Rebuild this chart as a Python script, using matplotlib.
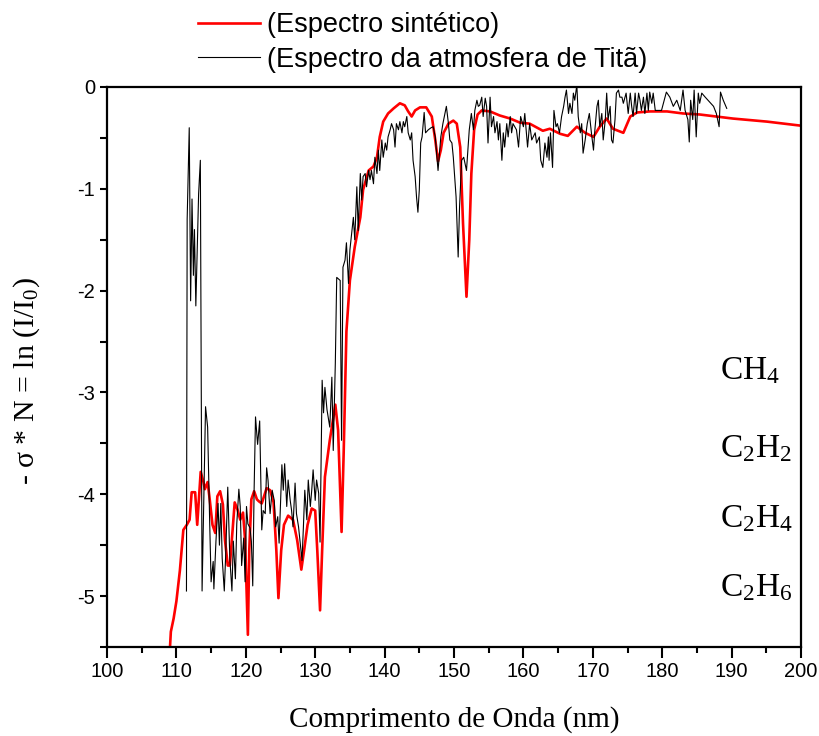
"""
Espectro sintetico x espectro da atmosfera de Tita
"""
import matplotlib
matplotlib.use('Agg')
import matplotlib.pyplot as plt
from matplotlib.ticker import MultipleLocator

# espectro sintetico (nm, -sigma*N)
red_x = [109.0, 109.2, 109.6, 110.0, 110.5, 111.0, 111.5, 111.9, 112.2, 112.7,
         113.0, 113.5, 113.9, 114.1, 114.5, 114.8, 115.2, 115.6, 115.9, 116.3,
         116.7, 117.0, 117.4, 117.7, 118.1, 118.4, 118.8, 119.2, 119.6, 119.9,
         120.3, 120.5, 120.8, 121.2, 121.6, 121.9, 122.3, 123.0, 123.5, 124.0,
         124.4, 124.7, 125.1, 125.5, 126.1, 126.8, 127.4, 128.0, 128.4, 128.9,
         129.5, 130.0, 130.3, 130.7, 131.0, 131.4, 132.1, 132.9, 133.3, 133.8,
         134.1, 134.5, 135.0, 135.7, 136.5, 136.9, 137.7, 138.4, 138.9, 139.3,
         139.8, 140.5, 141.3, 142.2, 142.9, 143.4, 143.9, 144.4, 145.1, 146.0,
         146.8, 147.3, 147.7, 148.1, 148.5, 149.2, 149.9, 150.4, 150.9, 151.3,
         151.8, 152.2, 152.5, 152.9, 153.4, 154.0, 155.2, 156.6, 158.1, 159.5,
         160.9, 162.8, 163.8, 165.3, 166.4, 167.7, 168.9, 170.1, 171.0, 172.0,
         172.9, 174.4, 175.4, 176.4, 178.2, 180.7, 183.0, 185.4, 190.2, 195.1,
         200.0]
red_y = [-5.60, -5.35, -5.22, -5.05, -4.75, -4.35, -4.30, -4.25, -3.98, -3.98,
         -4.30, -3.78, -3.88, -3.95, -3.88, -4.05, -4.30, -4.38, -4.02, -3.97,
         -4.10, -4.45, -4.70, -4.70, -4.35, -4.08, -4.15, -4.25, -4.18, -4.45,
         -5.38, -4.55, -4.05, -3.97, -4.05, -4.07, -4.09, -3.94, -3.96, -4.08,
         -4.55, -5.02, -4.55, -4.30, -4.21, -4.25, -4.45, -4.74, -4.55, -4.30,
         -4.14, -4.16, -4.55, -5.14, -4.55, -3.83, -3.47, -3.12, -3.37, -4.37,
         -3.60, -2.40, -1.90, -1.57, -1.28, -1.01, -0.82, -0.78, -0.69, -0.49,
         -0.34, -0.26, -0.21, -0.16, -0.18, -0.24, -0.29, -0.23, -0.20, -0.20,
         -0.29, -0.52, -0.73, -0.62, -0.45, -0.36, -0.33, -0.36, -0.59, -1.34,
         -2.06, -1.50, -0.85, -0.42, -0.27, -0.23, -0.24, -0.28, -0.31, -0.35,
         -0.36, -0.43, -0.41, -0.46, -0.48, -0.39, -0.45, -0.49, -0.39, -0.31,
         -0.41, -0.45, -0.29, -0.25, -0.24, -0.24, -0.26, -0.27, -0.31, -0.34,
         -0.38]

# espectro da atmosfera de Tita
titan_x = [111.45, 111.55, 111.85, 112.05, 112.25, 112.45, 112.6, 112.8, 113.0, 113.2,
           113.45, 113.7, 114.2, 114.5, 114.8, 115.0, 115.3, 115.4, 115.7, 116.0,
           116.2, 116.4, 116.6, 116.9, 117.1, 117.4, 117.7, 118.0, 118.2, 118.5,
           118.7, 119.0, 119.2, 119.4, 119.7, 119.9, 120.1, 120.3, 120.6, 120.8,
           121.0, 121.2, 121.4, 121.7, 122.0, 122.3, 122.5, 122.8, 123.0, 123.2,
           123.5, 123.8, 124.1, 124.3, 124.6, 124.8, 125.2, 125.4, 125.6, 125.9,
           126.1, 126.4, 126.6, 126.8, 127.1, 127.3, 127.6, 127.8, 128.1, 128.3,
           128.5, 128.8, 129.0, 129.3, 129.5, 129.7, 130.0, 130.2, 130.5, 130.7,
           131.0, 131.2, 131.4, 131.7, 132.1, 132.4, 132.6, 132.9, 133.1, 133.6,
           133.8, 134.0, 134.3, 134.5, 134.8, 135.0, 135.3, 135.5, 135.7, 136.0,
           136.2, 136.5, 136.7, 136.9, 137.2, 137.4, 137.7, 137.9, 138.1, 138.4,
           138.6, 138.9, 139.1, 139.3, 139.6, 139.8, 140.1, 140.3, 140.5, 140.8,
           141.0, 141.3, 141.5, 141.7, 142.0, 142.2, 142.5, 142.7, 142.9, 143.2,
           143.4, 143.7, 143.9, 144.1, 144.4, 144.6, 144.8, 145.0, 145.2, 145.4,
           145.7, 145.9, 146.3, 146.7, 147.0, 147.3, 147.7, 148.1, 148.4, 148.7,
           148.9, 149.2, 149.4, 149.7, 149.9, 150.3, 150.6, 150.8, 151.1, 151.4,
           151.8, 152.2, 152.5, 152.8, 153.0, 153.3, 153.5, 153.7, 154.0, 154.2,
           154.5, 154.7, 154.9, 155.2, 155.4, 155.7, 155.9, 156.2, 156.4, 156.6,
           156.9, 157.1, 157.3, 157.6, 157.8, 158.1, 158.3, 158.5, 159.0, 159.3,
           159.6, 160.0, 160.2, 160.6, 160.9, 161.2, 161.7, 161.9, 162.3, 162.5,
           162.8, 163.1, 163.4, 163.6, 163.7, 163.9, 164.2, 164.4, 164.7, 164.9,
           165.2, 165.5, 165.8, 166.0, 166.2, 166.5, 166.7, 167.0, 167.2, 167.4,
           167.7, 167.9, 168.2, 168.4, 168.6, 168.9, 169.2, 169.5, 169.8, 170.1,
           170.3, 170.6, 170.8, 171.0, 171.3, 171.5, 171.8, 172.0, 172.2, 172.5,
           172.7, 172.9, 173.2, 173.4, 173.7, 173.9, 174.2, 174.4, 174.8, 175.1,
           175.4, 175.6, 175.8, 176.1, 176.3, 176.6, 176.8, 177.0, 177.3, 177.5,
           177.8, 178.0, 178.2, 178.5, 178.7, 179.0, 179.9, 180.6, 181.1, 181.6,
           182.1, 182.6, 183.0, 183.3, 183.7, 183.9, 184.1, 184.4, 184.6, 184.9,
           185.2, 185.4, 185.7, 186.2, 186.6, 187.4, 187.8, 188.2, 188.4, 188.8,
           189.3]
titan_y = [-4.95, -1.30, -0.40, -2.10, -1.10, -1.85, -1.40, -2.15, -1.60, -1.05,
           -0.72, -4.95, -3.14, -3.34, -4.29, -4.86, -4.66, -4.93, -4.46, -4.09,
           -4.50, -4.09, -4.63, -4.95, -4.60, -3.93, -4.63, -4.95, -4.46, -4.83,
           -4.29, -3.95, -4.12, -4.70, -4.43, -4.86, -4.12, -4.29, -4.33, -4.46,
           -4.90, -3.95, -3.24, -3.51, -3.28, -4.35, -4.16, -4.19, -3.74, -3.86,
           -4.19, -3.96, -4.06, -4.32, -4.22, -4.48, -3.71, -3.96, -3.70, -4.12,
           -3.86, -4.06, -4.16, -4.32, -3.89, -4.19, -4.32, -4.45, -4.65, -4.32,
           -3.96, -4.25, -3.86, -4.12, -3.96, -3.76, -4.06, -3.86, -3.99, -4.47,
           -2.88, -3.20, -2.95, -3.17, -3.34, -2.85, -3.57, -2.71, -1.87, -1.90,
           -3.47, -1.77, -1.70, -1.53, -1.93, -1.60, -1.41, -1.28, -1.50, -0.98,
           -1.41, -0.85, -1.11, -0.88, -0.85, -0.98, -0.82, -0.91, -0.82, -0.95,
           -0.69, -0.85, -0.62, -0.82, -0.52, -0.69, -0.55, -0.62, -0.49, -0.42,
           -0.36, -0.42, -0.59, -0.36, -0.42, -0.34, -0.45, -0.34, -0.39, -0.29,
           -0.45, -0.52, -0.45, -0.72, -0.88, -1.08, -1.23, -1.01, -0.55, -0.49,
           -0.25, -0.45, -0.42, -0.40, -0.39, -0.49, -0.82, -0.49, -0.36, -0.26,
           -0.19, -0.36, -0.52, -0.55, -0.69, -1.08, -1.67, -1.18, -0.72, -0.69,
           -0.82, -0.42, -0.26, -0.42, -0.23, -0.13, -0.19, -0.18, -0.10, -0.29,
           -0.11, -0.19, -0.55, -0.10, -0.39, -0.29, -0.45, -0.34, -0.52, -0.36,
           -0.72, -0.45, -0.59, -0.36, -0.49, -0.29, -0.45, -0.36, -0.42, -0.59,
           -0.29, -0.39, -0.26, -0.59, -0.36, -0.52, -0.45, -0.55, -0.49, -0.72,
           -0.79, -0.55, -0.69, -0.49, -0.72, -0.45, -0.79, -0.23, -0.39, -0.36,
           -0.45, -0.29, -0.19, -0.10, -0.03, -0.26, -0.16, -0.26, -0.06, -0.13,
           0.02, -0.29, -0.45, -0.36, -0.65, -0.52, -0.36, -0.26, -0.45, -0.62,
           -0.42, -0.19, -0.13, -0.39, -0.26, -0.52, -0.32, -0.06, -0.32, -0.19,
           -0.52, -0.55, -0.32, -0.06, -0.03, -0.10, -0.10, -0.16, -0.06, -0.26,
           -0.06, -0.19, -0.29, -0.06, -0.26, -0.06, -0.13, -0.23, -0.10, -0.26,
           -0.06, -0.23, -0.05, -0.16, -0.06, -0.23, -0.23, -0.05, -0.10, -0.19,
           -0.13, -0.23, -0.03, -0.23, -0.32, -0.54, -0.13, -0.32, -0.03, -0.49,
           -0.06, -0.16, -0.06, -0.10, -0.13, -0.19, -0.26, -0.39, -0.05, -0.13,
           -0.21]

labels = ['(Espectro sintético)', '(Espectro da atmosfera de Titã)']
species = ['CH$_4$', 'C$_2$H$_2$', 'C$_2$H$_4$', 'C$_2$H$_6$']
species_y = [-2.87, -3.64, -4.32, -5.0]

plt.rcParams['font.family'] = ['Liberation Sans', 'DejaVu Sans']
plt.rcParams['axes.unicode_minus'] = False
plt.rcParams['mathtext.fontset'] = 'custom'
plt.rcParams['mathtext.rm'] = 'Liberation Serif'
plt.rcParams['mathtext.it'] = 'Liberation Serif:italic'

fig = plt.figure(figsize=(8.19, 7.36), dpi=100)
ax = fig.add_axes([107 / 819, 1 - 647 / 736, 694 / 819, 560 / 736])

l1, = ax.plot(red_x, red_y, color='#ff0000', linewidth=1.9)
l2, = ax.plot(titan_x, titan_y, color='black', linewidth=0.8)

ax.set_xlim(100, 200)
ax.set_ylim(-5.5, 0)
ax.xaxis.set_major_locator(MultipleLocator(10))
ax.xaxis.set_minor_locator(MultipleLocator(5))
ax.yaxis.set_major_locator(MultipleLocator(1))
ax.yaxis.set_minor_locator(MultipleLocator(0.5))
ax.tick_params(which='both', direction='out', width=1.5, labelsize=14.5)
ax.tick_params(axis='x', which='major', length=8, pad=2.5)
ax.tick_params(axis='x', which='minor', length=4.5)
ax.tick_params(axis='y', which='both', length=5)
for s in ax.spines.values():
    s.set_linewidth(1.6)

ax.set_xlabel('Comprimento de Onda (nm)', family='Liberation Serif', fontsize=21, labelpad=18)
ax.set_ylabel('- σ * N = ln (I/I$_0$)', family='Liberation Serif', fontsize=21.5)
ax.yaxis.set_label_coords(-0.093, 0.475)

for s, y in zip(species, species_y):
    ax.text(188.3, y, s, family='Liberation Serif', fontsize=24)

fig.legend([l1, l2], labels, loc='upper left', bbox_to_anchor=(198 / 819, 1 - 12 / 736),
           frameon=False, fontsize=19.5, handlelength=2.3, handletextpad=0.25,
           labelspacing=0.32, borderpad=0, borderaxespad=0)

plt.savefig('out.png', dpi=100)
